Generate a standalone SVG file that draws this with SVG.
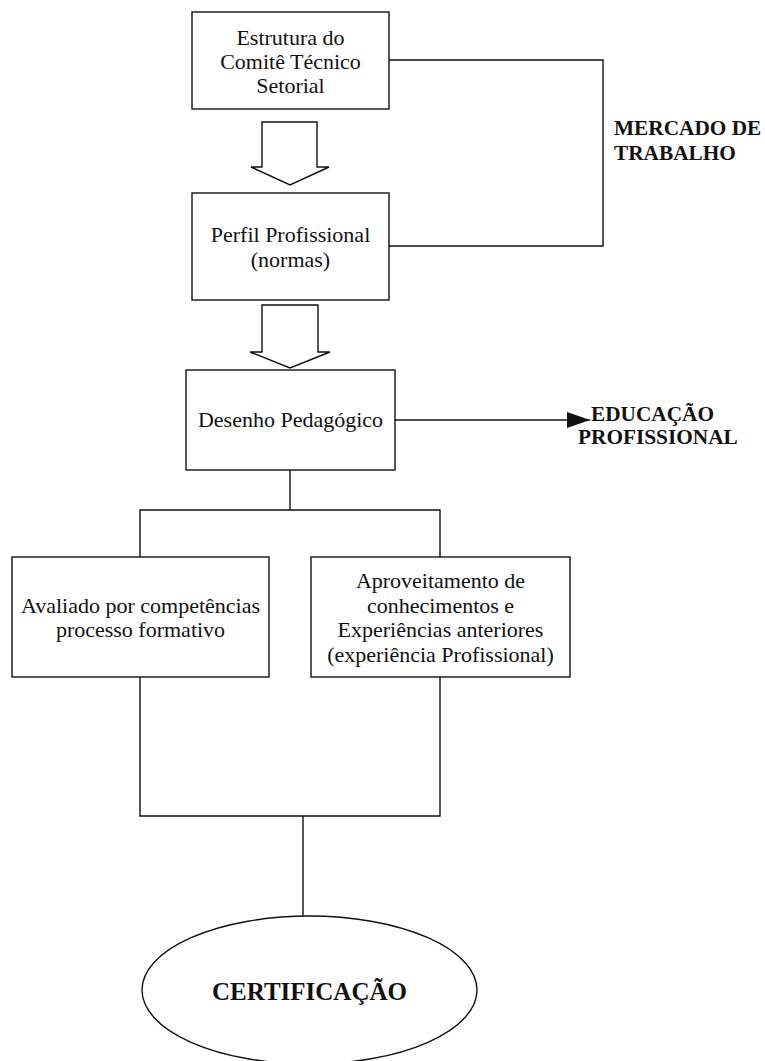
<svg xmlns="http://www.w3.org/2000/svg" width="765" height="1061" viewBox="0 0 765 1061">
  <defs>
    <style>
      .box { fill: #fff; stroke: #111; stroke-width: 1.4; }
      .wire { fill: none; stroke: #111; stroke-width: 1.4; }
      .blk { fill: #fff; stroke: #111; stroke-width: 1.4; stroke-linejoin: miter; }
      .t { font-family: "Liberation Serif", "Times New Roman", serif; font-size: 22px; fill: #111; text-anchor: middle; }
      .b { font-family: "Liberation Serif", "Times New Roman", serif; font-size: 21.3px; font-weight: bold; fill: #111; }
      .cert { font-family: "Liberation Serif", "Times New Roman", serif; font-size: 25px; font-weight: bold; fill: #111; text-anchor: middle; }
    </style>
    <marker id="arrowhead" markerWidth="24" markerHeight="17" refX="23.3" refY="8" orient="auto" markerUnits="userSpaceOnUse">
      <path d="M0,0 L23.3,8 L0,16 Z" fill="#111"/>
    </marker>
  </defs>

  <rect width="765" height="1061" fill="#fff"/>

  <!-- connectors -->
  <g id="connectors">
    <!-- market loop between committee and profile -->
    <polyline class="wire" points="389,60 603,60 603,246 389,246"/>
    <!-- towards professional education -->
    <line class="wire" x1="395" y1="420" x2="590" y2="420" marker-end="url(#arrowhead)"/>
    <!-- split to the two assessment routes -->
    <polyline class="wire" points="290,470 290,510"/>
    <polyline class="wire" points="140,557 140,510 440,510 440,557"/>
    <!-- join towards certification -->
    <polyline class="wire" points="140,677 140,816 440,816 440,677"/>
    <line class="wire" x1="303" y1="816" x2="303" y2="916"/>
    <!-- block arrows -->
    <path class="blk" d="M262,122 L317,122 L317,167 L329,167 L290,185 L251,167 L262,167 Z"/>
    <path class="blk" d="M262,305 L318,305 L318,352 L330,352 L290,368 L250,352 L262,352 Z"/>
  </g>

  <g id="estrutura">
    <rect class="box" x="192" y="12" width="197" height="97"/>
    <text class="t" x="290.5" y="45">Estrutura do</text>
    <text class="t" x="290.5" y="69">Comitê Técnico</text>
    <text class="t" x="290.5" y="93">Setorial</text>
  </g>

  <g id="perfil">
    <rect class="box" x="192" y="193" width="197" height="107"/>
    <text class="t" x="290.5" y="242">Perfil Profissional</text>
    <text class="t" x="290.5" y="267">(normas)</text>
  </g>

  <g id="desenho">
    <rect class="box" x="186" y="370" width="209" height="100"/>
    <text class="t" x="290.5" y="427">Desenho Pedagógico</text>
  </g>

  <g id="mercado">
    <text class="b" x="614" y="135">MERCADO DE</text>
    <text class="b" x="614" y="160">TRABALHO</text>
  </g>

  <g id="educacao">
    <text class="b" x="591" y="421">EDUCAÇÃO</text>
    <text class="b" x="578" y="444">PROFISSIONAL</text>
  </g>

  <g id="avaliado">
    <rect class="box" x="12" y="557" width="257" height="120"/>
    <text class="t" x="140.5" y="613">Avaliado por competências</text>
    <text class="t" x="140.5" y="637">processo formativo</text>
  </g>

  <g id="aproveitamento">
    <rect class="box" x="311" y="557" width="259" height="120"/>
    <text class="t" x="440.5" y="588">Aproveitamento de</text>
    <text class="t" x="440.5" y="612.5">conhecimentos e</text>
    <text class="t" x="440.5" y="637">Experiências anteriores</text>
    <text class="t" x="440.5" y="661.5">(experiência Profissional)</text>
  </g>

  <g id="certificacao">
    <ellipse class="box" cx="309.5" cy="990" rx="167.5" ry="74"/>
    <text class="cert" x="309.5" y="1000">CERTIFICAÇÃO</text>
  </g>
</svg>
